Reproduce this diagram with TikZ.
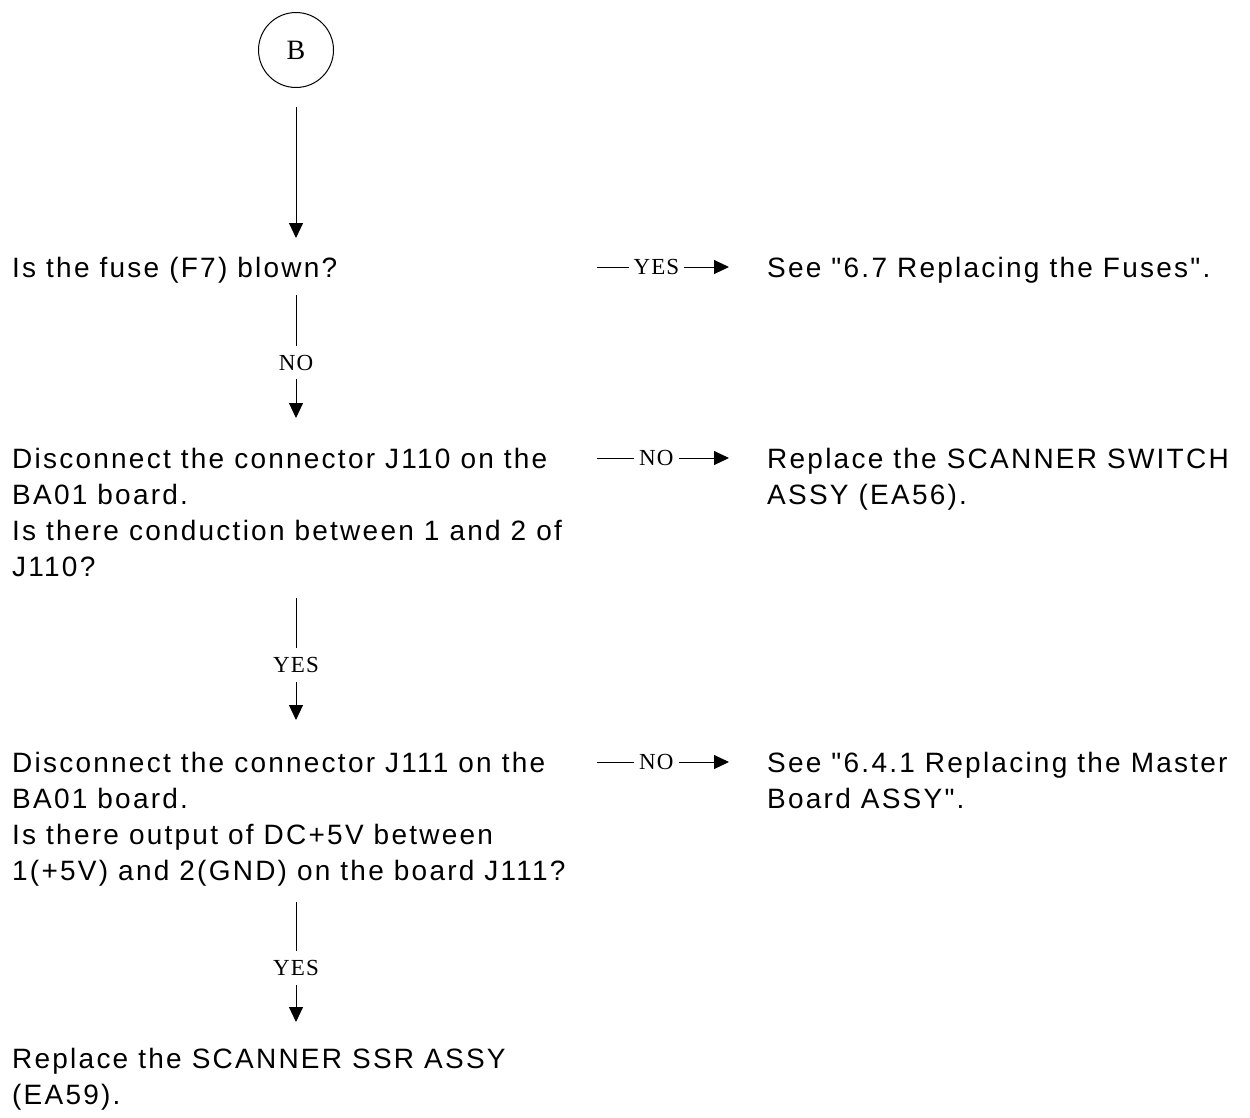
\documentclass[tikz,border=0pt]{standalone}
\usepackage{fontspec}
\setmainfont{Liberation Serif}
\newfontfamily\stepfont[LetterSpace=8]{Liberation Sans}
\newfontfamily\tagfont[LetterSpace=5]{Liberation Serif}
\usetikzlibrary{arrows.meta,calc}

\begin{document}
\begin{tikzpicture}[x=1pt,y=-1pt,
  txt/.style={anchor=base west, inner sep=0pt, align=left,
    font=\stepfont\fontsize{28}{36}\selectfont},
  term/.style={circle, draw, line width=1pt, minimum size=75pt, inner sep=0pt,
    font=\fontsize{28}{34}\selectfont},
  flow/.style={line width=1pt, -{Triangle[length=15pt,width=14pt]}},
  tag/.style={fill=white, inner xsep=5pt, inner ysep=9pt,
    font=\tagfont\fontsize{23}{27}\selectfont}]
\useasboundingbox (0,0) rectangle (1250,1117);

% start terminal
\node[term] (B) at (296,50) {B};

% checks down the left column (anchored on the baseline of the last line)
\node[txt] (q1) at (12,277) {Is the fuse (F7) blown?};
\node[txt] (q2) at (12,576) {Disconnect the connector J110 on the\\BA01 board.\\Is there conduction between 1 and 2 of\\J110?};
\node[txt] (q3) at (12,880) {Disconnect the connector J111 on the\\BA01 board.\\Is there output of DC+5V between\\1(+5V) and 2(GND) on the board J111?};
\node[txt] (q4) at (12,1104) {Replace the SCANNER SSR ASSY\\(EA59).};

% remedies on the right
\node[txt] (r1) at (767,277) {See "6.7 Replacing the Fuses".};
\node[txt] (r2) at (767,504) {Replace the SCANNER SWITCH\\ASSY (EA56).};
\node[txt] (r3) at (767,808) {See "6.4.1 Replacing the Master\\Board ASSY".};

% main vertical flow
\draw[flow] ($(B.south)+(0,18.5)$) -- ($(q1.base -| B)+(0,-39)$);
\draw[flow] ($(q1.base -| B)+(0,18)$) -- node[tag,pos=0.55]{NO} ($(q2.base -| B)+(0,-158)$);
\draw[flow] ($(q2.base -| B)+(0,22)$) -- node[tag,pos=0.55]{YES} ($(q3.base -| B)+(0,-160)$);
\draw[flow] ($(q3.base -| B)+(0,22)$) -- node[tag,pos=0.55]{YES} ($(q4.base -| B)+(0,-82)$);

% branches to the right, level with the first line of each check
\draw[flow] ($(r1.base west)+(-170,-10)$) -- node[tag,pos=0.45]{YES} ($(r1.base west)+(-38,-10)$);
\draw[flow] ($(r2.base west)+(-170,-46)$) -- node[tag,pos=0.45]{NO} ($(r2.base west)+(-38,-46)$);
\draw[flow] ($(r3.base west)+(-170,-46)$) -- node[tag,pos=0.45]{NO} ($(r3.base west)+(-38,-46)$);
\end{tikzpicture}
\end{document}
